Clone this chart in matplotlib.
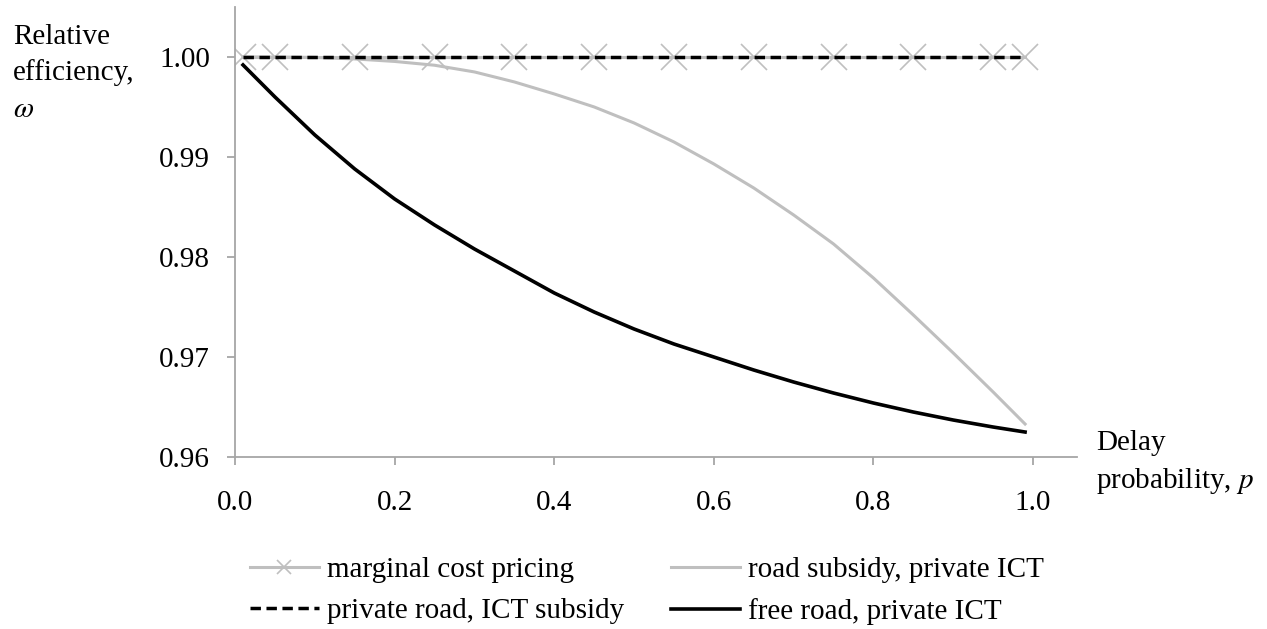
import matplotlib
matplotlib.use("Agg")
import matplotlib.pyplot as plt
from matplotlib.ticker import FormatStrFormatter

plt.rcParams['font.family'] = ['Liberation Serif', 'DejaVu Serif']
plt.rcParams['mathtext.fontset'] = 'stix'

# delay probability p
p = [0.01, 0.05, 0.10, 0.15, 0.20, 0.25, 0.30, 0.35, 0.40, 0.45, 0.50,
     0.55, 0.60, 0.65, 0.70, 0.75, 0.80, 0.85, 0.90, 0.95, 0.99]

# marginal cost pricing (markers shown at these p)
p_mcp = [0.01, 0.05, 0.15, 0.25, 0.35, 0.45, 0.55, 0.65, 0.75, 0.85, 0.95, 0.99]
w_mcp = [1.0] * len(p_mcp)

# private road, ICT subsidy
w_private_road = [1.0] * len(p)

# road subsidy, private ICT
w_road_subsidy = [1.00000, 0.99999, 0.99995, 0.99980, 0.99955, 0.99917, 0.99850,
                  0.99750, 0.99630, 0.99500, 0.99340, 0.99150, 0.98930, 0.98690,
                  0.98420, 0.98130, 0.97790, 0.97420, 0.97040, 0.96650, 0.96330]

# free road, private ICT
w_free_road = [0.9992, 0.9960, 0.9922, 0.9888, 0.9858, 0.9832, 0.9808, 0.9786,
               0.9764, 0.9745, 0.9728, 0.9713, 0.9700, 0.9687, 0.9675, 0.9664,
               0.9654, 0.9645, 0.9637, 0.9630, 0.9625]

gray = '#BFBFBF'
axis_gray = '#A6A6A6'
fs = 21

fig = plt.figure(figsize=(12.67, 6.29), dpi=100)
ax = fig.add_axes([0.1855, 0.2734, 0.6645, 0.7156])

l1, = ax.plot(p_mcp, w_mcp, color=gray, lw=2.2, marker='x', ms=19, mew=1.2,
              label='marginal cost pricing', zorder=2)
l3, = ax.plot(p, w_road_subsidy, color=gray, lw=2.2,
              label='road subsidy, private ICT', zorder=3)
l2, = ax.plot(p, w_private_road, color='black', lw=2.5, ls=(0, (3.0, 1.6)),
              label='private road, ICT subsidy', zorder=4)
l4, = ax.plot(p, w_free_road, color='black', lw=2.6,
              label='free road, private ICT', zorder=5)

ax.set_xlim(0, 1.055)
ax.set_ylim(0.96, 1.005)
ax.set_xticks([0.0, 0.2, 0.4, 0.6, 0.8, 1.0])
ax.set_yticks([0.96, 0.97, 0.98, 0.99, 1.00])
ax.xaxis.set_major_formatter(FormatStrFormatter('%.1f'))
ax.yaxis.set_major_formatter(FormatStrFormatter('%.2f'))

for s in ['top', 'right']:
    ax.spines[s].set_visible(False)
for s in ['left', 'bottom']:
    ax.spines[s].set_color(axis_gray)
    ax.spines[s].set_linewidth(1.3)
ax.tick_params(axis='both', direction='out', length=6, width=1.3,
               color=axis_gray, labelsize=fs)
ax.tick_params(axis='x', pad=18)
ax.tick_params(axis='y', pad=12)

W, H = 1267, 629
fig.text(13 / W, 1 - 37 / H, 'Relative', fontsize=fs, ha='left', va='center')
fig.text(13 / W, 1 - 73 / H, 'efficiency,', fontsize=fs, ha='left', va='center')
fig.text(13 / W, 1 - 110 / H, r'$\omega$', fontsize=fs, ha='left', va='center')
fig.text(1096 / W, 1 - 443 / H, 'Delay', fontsize=fs, ha='left', va='center')
fig.text(1096 / W, 1 - 481 / H, r'probability, $p$', fontsize=fs,
         ha='left', va='center')

fig.legend(handles=[l1, l2, l3, l4], loc='upper left', ncol=2,
           bbox_to_anchor=(250 / W, 1 - 557 / H), frameon=False, fontsize=fs,
           borderpad=0, borderaxespad=0,
           handlelength=2.35, handletextpad=0.3, columnspacing=1.6,
           labelspacing=0.5, markerscale=0.55)

fig.savefig('out.png', dpi=100)
